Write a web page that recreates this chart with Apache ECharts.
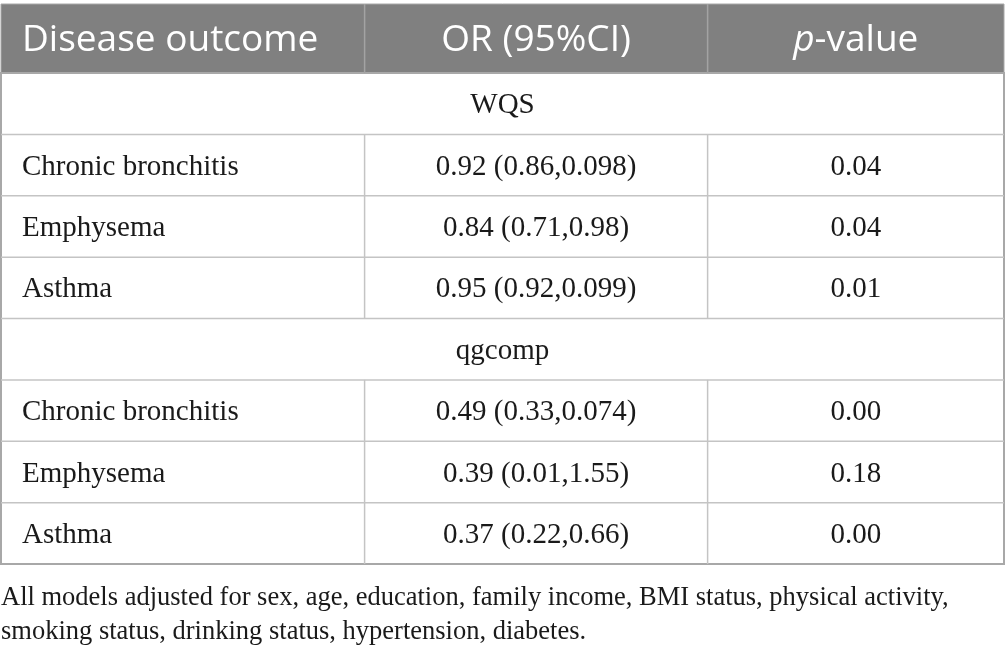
<!DOCTYPE html>
<html>
<head>
<meta charset="utf-8">
<script src="https://cdn.jsdelivr.net/npm/echarts@6/dist/echarts.min.js"></script>
<style>
  html, body { margin: 0; padding: 0; background: #fff; }
  #main { width: 1005px; height: 654px; }
</style>
</head>
<body>
<div id="main"></div>
<script>
// table content
const columns = ['Disease outcome', 'OR (95%CI)', 'p-value'];
const groups = ['WQS', 'qgcomp'];
const outcomes = ['Chronic bronchitis', 'Emphysema', 'Asthma'];
const wqsOR = ['0.92 (0.86,0.098)', '0.84 (0.71,0.98)', '0.95 (0.92,0.099)'];
const wqsP = ['0.04', '0.04', '0.01'];
const qgOR = ['0.49 (0.33,0.074)', '0.39 (0.01,1.55)', '0.37 (0.22,0.66)'];
const qgP = ['0.00', '0.18', '0.00'];
const footnote = 'All models adjusted for sex, age, education, family income, BMI status, physical activity,\nsmoking status, drinking status, hypertension, diabetes.';

// column edges as share of table width
const colEdges = [0, 0.3625, 0.7045, 1];

// build rows: group label, then one row per outcome
var rows = [];
function addGroup(name, ors, ps) {
    rows.push({ kind: 'group', label: name });
    outcomes.forEach(function (o, i) {
        rows.push({ kind: 'data', cells: [o, ors[i], ps[i]] });
    });
}
addGroup(groups[0], wqsOR, wqsP);
addGroup(groups[1], qgOR, qgP);

const serif = '"Liberation Serif", "Times New Roman", serif';
const sans = '"Open Sans", "Noto Sans", sans-serif';
const lineColor = '#c4c4c4';

function edgesX(api, idx) {
    return colEdges.map(function (e) { return api.coord([e, idx])[0]; });
}

function renderBody(params, api) {
    var idx = api.value(1);
    var c = api.coord([0, idx]);
    var h = api.size([0, 1])[1];
    var yTop = c[1] - h / 2, yBot = c[1] + h / 2, yMid = c[1] + 2;
    var xs = edgesX(api, idx);
    var row = rows[idx];
    var kids = [];
    var txt = { fill: '#1a1a1a', font: '29px ' + serif, verticalAlign: 'middle' };
    if (row.kind === 'group') {
        kids.push({ type: 'text', style: Object.assign({ text: row.label, x: (xs[0] + xs[3]) / 2, y: yMid, align: 'center' }, txt) });
    } else {
        kids.push({ type: 'text', style: Object.assign({ text: row.cells[0], x: xs[0] + 21, y: yMid, align: 'left' }, txt) });
        kids.push({ type: 'text', style: Object.assign({ text: row.cells[1], x: (xs[1] + xs[2]) / 2, y: yMid, align: 'center' }, txt) });
        kids.push({ type: 'text', style: Object.assign({ text: row.cells[2], x: (xs[2] + xs[3]) / 2, y: yMid, align: 'center' }, txt) });
        [xs[1], xs[2]].forEach(function (x) {
            kids.push({ type: 'line', shape: { x1: x, y1: yTop, x2: x, y2: yBot }, style: { stroke: lineColor, lineWidth: 1.5 } });
        });
    }
    if (idx < rows.length - 1) {
        kids.push({ type: 'line', shape: { x1: xs[0], y1: yBot, x2: xs[3], y2: yBot }, style: { stroke: lineColor, lineWidth: 1.5 } });
    }
    return { type: 'group', children: kids };
}

function renderHead(params, api) {
    var idx = api.value(1);
    var c = api.coord([0, idx]);
    var h = api.size([0, 1])[1];
    var yMid = c[1] + 2;
    var xs = edgesX(api, idx);
    var st = { fill: '#ffffff', font: '37px ' + sans, verticalAlign: 'middle' };
    var kids = [
        { type: 'text', style: Object.assign({ text: columns[0], x: xs[0] + 21, y: yMid, align: 'left' }, st) },
        { type: 'text', style: Object.assign({ text: columns[1], x: (xs[1] + xs[2]) / 2, y: yMid, align: 'center' }, st) },
        { type: 'text', style: Object.assign({
            text: '{i|p}{n|-value}', x: (xs[2] + xs[3]) / 2, y: yMid, align: 'center',
            rich: {
                i: { fill: '#fff', fontFamily: sans, fontSize: 37, fontStyle: 'italic' },
                n: { fill: '#fff', fontFamily: sans, fontSize: 37 }
            }
        }, { verticalAlign: 'middle' }) }
    ];
    [xs[1], xs[2]].forEach(function (x) {
        kids.push({ type: 'line', shape: { x1: x, y1: c[1] - h / 2, x2: x, y2: c[1] + h / 2 }, style: { stroke: '#a3a3a3', lineWidth: 1.5 } });
    });
    return { type: 'group', children: kids };
}

var chart = echarts.init(document.getElementById('main'), null, { renderer: 'canvas' });
chart.setOption({
    animation: false,
    backgroundColor: '#ffffff',
    title: {
        text: footnote,
        left: -4,
        top: 576,
        textStyle: { fontFamily: serif, fontSize: 26.5, fontWeight: 'normal', color: '#1a1a1a', lineHeight: 34 }
    },
    grid: [
        { left: 1, right: 1, top: 4, height: 69, show: true, backgroundColor: '#808080', borderColor: '#a8a8a8', borderWidth: 1 },
        { left: 1, right: 1, top: 73, height: 491, show: true, backgroundColor: '#ffffff', borderColor: '#a8a8a8', borderWidth: 2 }
    ],
    xAxis: [
        { type: 'value', gridIndex: 0, min: 0, max: 1, show: false },
        { type: 'value', gridIndex: 1, min: 0, max: 1, show: false }
    ],
    yAxis: [
        { type: 'category', gridIndex: 0, data: ['head'], inverse: true, show: false },
        { type: 'category', gridIndex: 1, data: rows.map(function (r, i) { return 'r' + i; }), inverse: true, show: false }
    ],
    series: [
        { type: 'custom', xAxisIndex: 0, yAxisIndex: 0, silent: true, renderItem: renderHead, data: [[0, 0]] },
        { type: 'custom', xAxisIndex: 1, yAxisIndex: 1, silent: true, renderItem: renderBody, data: rows.map(function (r, i) { return [0, i]; }) }
    ]
});
</script>
</body>
</html>
